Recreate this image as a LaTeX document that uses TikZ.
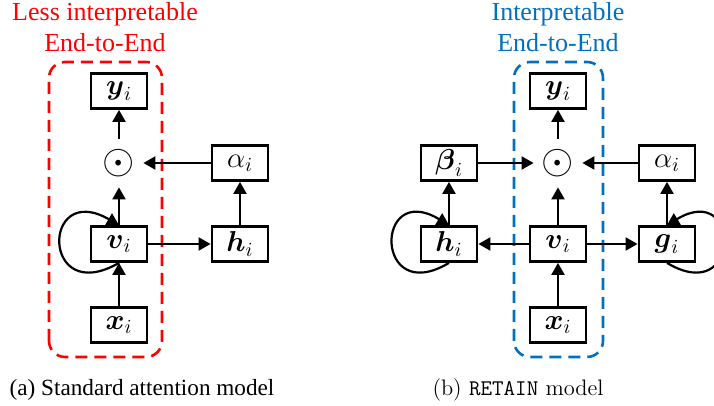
\documentclass[tikz,border=0pt]{standalone}
\usepackage{amsmath}
\usepackage{fontspec}
\usetikzlibrary{arrows.meta, positioning}
\newfontfamily\timesfont{Liberation Serif}
\definecolor{lessred}{RGB}{255,0,0}
\definecolor{retainblue}{RGB}{0,112,192}
\tikzset{
  blk/.style={draw, line width=1.4pt, minimum width=28pt, minimum height=17.5pt, inner sep=0pt, font=\fontsize{14}{14}\selectfont},
  prod/.style={circle, minimum size=24pt, inner sep=0pt, font=\fontsize{21}{21}\selectfont},
  grpbox/.style={line width=1.3pt, dash pattern=on 6pt off 3.5pt, rounded corners=8pt},
  heading/.style={align=center, font=\timesfont\fontsize{13}{15.5}\selectfont},
  flow/.style={line width=1.1pt, -{Triangle[length=6pt, width=6.5pt]}},
}

\begin{document}
\begin{tikzpicture}[x=0.5pt, y=0.5pt, node distance=10pt, on grid]
  \useasboundingbox (0,0) rectangle (714,406);

  % (a) standard attention
  \node[prod] (odotA) at (119,243) {$\odot$};
  \node[blk] (yA) [above=36pt of odotA] {$\boldsymbol{y}_i$};
  \node[blk] (vA) [below=40.5pt of odotA] {$\boldsymbol{v}_i$};
  \node[blk] (xA) [below=40.5pt of vA] {$\boldsymbol{x}_i$};
  \node[blk] (alA) [right=60.5pt of odotA] {$\alpha_i$};
  \node[blk] (hA) [right=60.5pt of vA] {$\boldsymbol{h}_i$};
  \draw[grpbox, lessred] (49,49) rectangle (162,344);
  \node[heading, text=lessred] (titleA) at (105,379) {Less interpretable\\End-to-End};
  \node[font=\timesfont\fontsize{11.6}{11.6}\selectfont] (capA) at (142,16) {(a) Standard attention model};

  \draw[flow] (xA) -- (vA);
  \draw[flow] (vA) -- (odotA);
  \draw[flow] (odotA) -- (yA);
  \draw[flow] (vA) -- (hA);
  \draw[flow] (hA) -- (alA);
  \draw[flow] (alA) -- (odotA);
  \draw[flow] (vA.south) .. controls +(-78,-45) and +(-78,45) .. (vA.north);

  % (b) RETAIN
  \node[prod] (odotB) at (558,243) {$\odot$};
  \node[blk] (yB) [above=36pt of odotB] {$\boldsymbol{y}_i$};
  \node[blk] (vB) [below=40.5pt of odotB] {$\boldsymbol{v}_i$};
  \node[blk] (xB) [below=40.5pt of vB] {$\boldsymbol{x}_i$};
  \node[blk] (beB) [left=54.5pt of odotB] {$\boldsymbol{\beta}_i$};
  \node[blk] (alB) [right=54.5pt of odotB] {$\alpha_i$};
  \node[blk] (hB) [left=54.5pt of vB] {$\boldsymbol{h}_i$};
  \node[blk] (gB) [right=54.5pt of vB] {$\boldsymbol{g}_i$};
  \draw[grpbox, retainblue] (514,49) rectangle (603,344);
  \node[heading, text=retainblue] (titleB) at (558,379) {Interpretable\\End-to-End};
  \node[font=\fontsize{11.2}{11.2}\selectfont] (capB) at (518,16) {(b) \texttt{RETAIN} model};

  \draw[flow] (xB) -- (vB);
  \draw[flow] (vB) -- (odotB);
  \draw[flow] (odotB) -- (yB);
  \draw[flow] (vB) -- (hB);
  \draw[flow] (vB) -- (gB);
  \draw[flow] (hB) -- (beB);
  \draw[flow] (gB) -- (alB);
  \draw[flow] (beB) -- (odotB);
  \draw[flow] (alB) -- (odotB);
  \draw[flow] (hB.south) .. controls +(-75,-45) and +(-75,45) .. (hB.north);
  \draw[flow] (gB.south) .. controls +(75,-45) and +(75,45) .. (gB.north);
\end{tikzpicture}
\end{document}
